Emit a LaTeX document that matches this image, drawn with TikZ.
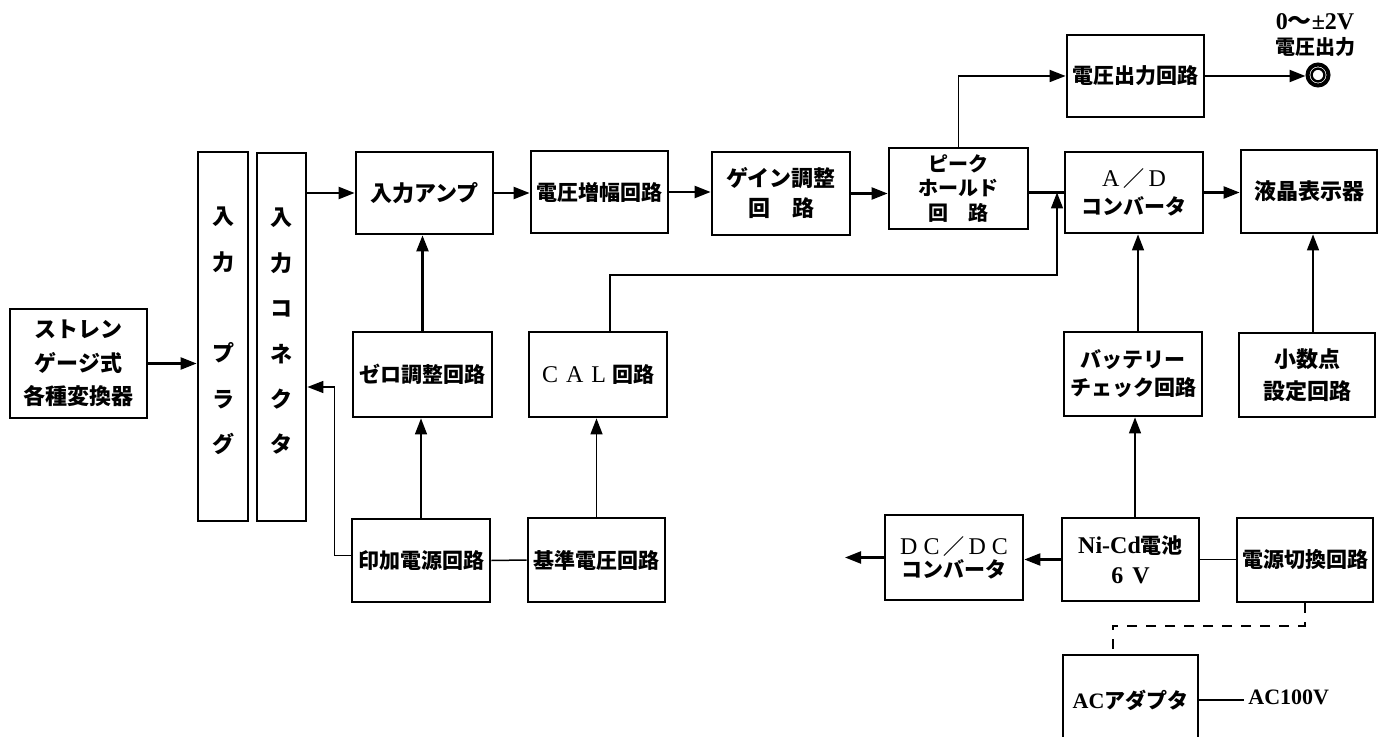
\documentclass[tikz,border=0pt]{standalone}
\usepackage{fontspec}
\setmainfont{Liberation Serif}
\newfontfamily\jp{Noto Sans CJK JP}
\usetikzlibrary{arrows.meta,calc}
\newcommand\latr[1]{{\rmfamily\mdseries\fontsize{12}{14}\selectfont #1}}
\newcommand\latb[1]{{\rmfamily\bfseries\fontsize{12}{14}\selectfont #1}}
\begin{document}
\begin{tikzpicture}[x=0.5pt,y=-0.5pt,
  box/.style={draw,line width=1.4pt,inner sep=0pt,align=center,font=\jp\bfseries\fontsize{10.5}{15}\selectfont},
  coltxt/.style={inner sep=0pt,align=center,font=\jp\bfseries\fontsize{11}{22.7}\selectfont},
  arrowhd/.style={-{Triangle[length=8pt,width=6pt]}},
  thk/.style={line width=1.1pt},
  thn/.style={line width=0.75pt}]
\useasboundingbox (0,0) rectangle (1380,737);
\clip (0,0) rectangle (1380,737);

% boxes
\node[box,minimum width=68.5pt,minimum height=54.5pt,font=\jp\bfseries\fontsize{11}{16.75}\selectfont] (strain) at (78.5,363.5) {ストレン\\ゲージ式\\各種変換器};
\node[box,minimum width=25pt,minimum height=184.5pt] (plug) at (223,336.5) {};
\node[coltxt] (plugtxt) at (223,331) {入\\力\\[23pt]プ\\ラ\\グ};
\node[box,minimum width=24.5pt,minimum height=184pt] (conn) at (281.5,337) {};
\node[coltxt] (conntxt) at (281.5,331.5) {入\\力\\コ\\ネ\\ク\\タ};

\node[box,minimum width=68.5pt,minimum height=41pt,font=\jp\bfseries\fontsize{11}{15}\selectfont] (amp) at (424.5,193) {入力アンプ};
\node[box,minimum width=68.5pt,minimum height=41pt] (vamp) at (599.5,192) {電圧増幅回路};
\node[box,minimum width=69pt,minimum height=41.5pt,font=\jp\bfseries\fontsize{11}{15}\selectfont] (gain) at (781,193.5) {ゲイン調整\\回　路};
\node[box,minimum width=69.5pt,minimum height=40.5pt,font=\jp\bfseries\fontsize{10}{12.25}\selectfont] (peak) at (958.5,188.5) {ピーク\\ホールド\\回　路};
\node[box,minimum width=68.5pt,minimum height=41pt] (vout) at (1135.5,76) {電圧出力回路};
\node[box,minimum width=69pt,minimum height=40.5pt,font=\jp\bfseries\fontsize{10.5}{14}\selectfont] (ad) at (1134,192.5) {\latr{A}\hspace{2pt}／\hspace{2pt}\latr{D}\\コンバータ};
\node[box,minimum width=68pt,minimum height=41.5pt,font=\jp\bfseries\fontsize{11}{15}\selectfont] (lcd) at (1309,191.5) {液晶表示器};

\node[box,minimum width=69.5pt,minimum height=42.5pt] (zero) at (422.5,374.5) {\raisebox{-3pt}{ゼロ調整回路}};
\node[box,minimum width=69pt,minimum height=42.5pt] (cal) at (598,374.5) {\latr{C\hspace{4pt}A\hspace{4pt}L}\hspace{3pt}回路};
\node[box,minimum width=69pt,minimum height=41.5pt] (inka) at (421,560.5) {印加電源回路};
\node[box,minimum width=68.5pt,minimum height=42pt] (kijun) at (596.5,560) {基準電圧回路};

\node[box,minimum width=69pt,minimum height=42pt,font=\jp\bfseries\fontsize{10.5}{14}\selectfont] (batt) at (1133,374) {バッテリー\\チェック回路};
\node[box,minimum width=68pt,minimum height=42pt,font=\jp\bfseries\fontsize{11}{16}\selectfont] (dec) at (1307,375) {小数点\\設定回路};
\node[box,minimum width=69pt,minimum height=42.5pt,font=\jp\bfseries\fontsize{10.5}{11.5}\selectfont] (dcdc) at (954,557.5) {\latr{D\hspace{3pt}C}\hspace{2pt}／\hspace{2pt}\latr{D\hspace{3pt}C}\\コンバータ};
\node[box,minimum width=68.5pt,minimum height=41.5pt,font=\jp\bfseries\fontsize{10.5}{15}\selectfont] (nicd) at (1130.5,559.5) {\latb{Ni-Cd}電池\\\latb{6\hspace{4.5pt}V}};
\node[box,minimum width=68pt,minimum height=42pt] (sw) at (1305,560) {電源切換回路};
\node[box,minimum width=67.5pt,minimum height=45pt] (acad) at (1130.5,700) {{\rmfamily\bfseries\fontsize{11}{13}\selectfont AC}アダプタ};

% output terminal and labels
\node[circle,draw,line width=2pt,minimum size=10.5pt,inner sep=0pt] (term) at (1318,75) {};
\draw[line width=1.2pt] (term.center) circle[radius=3.2pt];
\node[inner sep=0pt,font=\rmfamily\bfseries\fontsize{12}{14}\selectfont] (vlab1) at (1315,22) {0{\jp ～}±2V};
\node[inner sep=0pt,font=\jp\bfseries\fontsize{10}{12}\selectfont] (vlab2) at (1315,47) {電圧出力};
\node[inner sep=2pt,anchor=west,font=\rmfamily\bfseries\fontsize{11}{13}\selectfont] (ac100) at (1244,697) {AC100V};

% coordinates
\coordinate (cin) at ($(conn.east)+(0,50)$);
\coordinate (calturn) at (1057,275);
\coordinate (adjoin) at (1057,192.5);
\coordinate (calout) at ($(cal.north)+(12,0)$);
\coordinate (inkaout) at ($(inka.west)+(0,-5)$);
\coordinate (nb) at ($(nicd.north)+(4.5,0)$);
\coordinate (ba) at ($(batt.north)+(5,0)$);
\coordinate (dl) at ($(dec.north)+(6,0)$);
\coordinate (dcout) at (845,557.5);
\coordinate (dashturn) at ($(acad.north)+(-17.5,-28)$);
\coordinate (dashend) at ($(acad.north)+(-17.5,0)$);

% connectors
\draw[thk,arrowhd] (strain.east) -- (strain.east -| plug.west);
\draw[thk,arrowhd] (conn.east |- amp.west) -- (amp.west);
\draw[thk,arrowhd] (amp.east) -- (amp.east -| vamp.west);
\draw[thk,arrowhd] (vamp.east) -- (vamp.east -| gain.west);
\draw[thk,arrowhd] (gain.east) -- (gain.east -| peak.west);
\draw[thk] (peak.east |- ad.west) -- (ad.west);
\draw[thn,line width=0.9pt,arrowhd] (peak.north) |- (vout.west);
\draw[thk,arrowhd] (vout.east) -- (vout.east -| term.west);
\draw[thk,arrowhd] (ad.east) -- (ad.east -| lcd.west);
\draw[thn,arrowhd] (calout) |- (calturn) -- (adjoin);
\draw[thk,arrowhd] (zero.north) -- (zero.north |- amp.south);
\draw[thn,arrowhd] (inka.north) -- (inka.north |- zero.south);
\draw[thn,arrowhd] (inkaout) -| ($(cin)+(27,0)$) -- (cin);
\draw[thn] (inka.east) -- (kijun.west);
\draw[thn,arrowhd] (kijun.north) -- (kijun.north |- cal.south);
\draw[thn,arrowhd] (ba) -- (ba |- ad.south);
\draw[thn,arrowhd] (dl) -- (dl |- lcd.south);
\draw[thn,arrowhd] (nb) -- (nb |- batt.south);
\draw[thk,arrowhd] (nicd.west) -- (nicd.west -| dcdc.east);
\draw[thk,arrowhd] (dcdc.west) -- (dcout);
\draw[thn] (nicd.east) -- (nicd.east -| sw.west);
\draw[thn,line width=0.9pt,dash pattern=on 5pt off 4.5pt] (sw.south) |- (dashturn) -- (dashend);
\draw[thn] (acad.east) -- (acad.east -| ac100.west);
\end{tikzpicture}
\end{document}
